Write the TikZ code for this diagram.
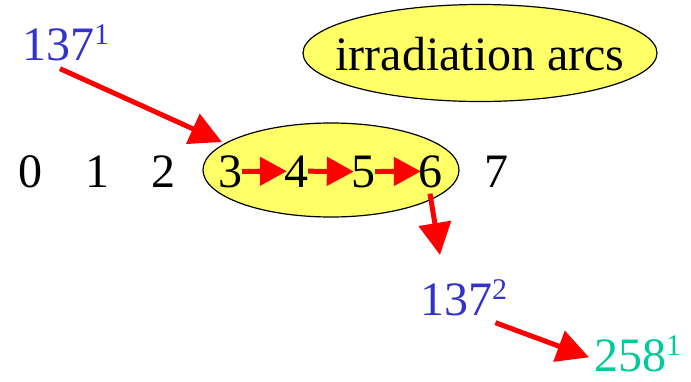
\documentclass[tikz,border=0pt]{standalone}
\usepackage{fontspec}
\setmainfont{Liberation Serif}
\usepackage{tikz}
\usetikzlibrary{arrows.meta,shapes.geometric}
\definecolor{numblue}{HTML}{3333CC}
\definecolor{numgreen}{HTML}{00CC99}
\definecolor{arcyellow}{HTML}{FFFF66}
\newcommand{\upidx}[1]{\raisebox{16pt}{\fontsize{30}{30}\selectfont #1}}

\begin{document}
\begin{tikzpicture}[x=1pt,y=-1pt,
  digit/.style={inner sep=0pt,anchor=base,font=\fontsize{48}{56}\selectfont},
  iso/.style={digit,anchor=base west},
  oval/.style={draw,line width=1.2pt,fill=arcyellow},
  bigarr/.style={-{Triangle[length=32pt,width=32pt]},line width=5pt,color=red},
  smallarr/.style={-{Triangle[length=27pt,width=28pt]},line width=5pt,color=red}]

  \useasboundingbox (0,0) rectangle (691,381);

  % yellow ovals
  \path[oval] (480,53) ellipse [x radius=177pt,y radius=48.5pt];
  \path[oval] (331,170) ellipse [x radius=128pt,y radius=47pt];
  \coordinate (grp) at (331,170);
  \node[digit,anchor=center] (label) at (480,54) {irradiation arcs};

  \foreach \d/\x in {0/30,1/97,2/163,3/230,4/296,5/363,6/430,7/496}
    \node[digit] (n\d) at (\x,187) {\d};

  \node[iso,text=numblue] (t137a) at (22,60) {137\upidx{1}};
  \node[iso,text=numblue] (t137b) at (420,315) {137\upidx{2}};
  \node[iso,text=numgreen] (t258) at (594,371) {258\upidx{1}};

  \foreach \a/\b in {3/4,4/5,5/6}
    \draw[smallarr,shorten >=-3pt] (n\a.east) -- (n\b.west);

  \draw[bigarr] ([xshift=38pt,yshift=-8pt]t137a.south west) -- ([xshift=-109pt,yshift=28pt]grp);
  \draw[bigarr] ([yshift=-6pt]n6.south) -- ([xshift=20pt,yshift=24pt]t137b.north west);
  \draw[bigarr] ([xshift=-12pt,yshift=-7pt]t137b.south east) -- ([xshift=-5pt,yshift=-4pt]t258.west);
\end{tikzpicture}
\end{document}
